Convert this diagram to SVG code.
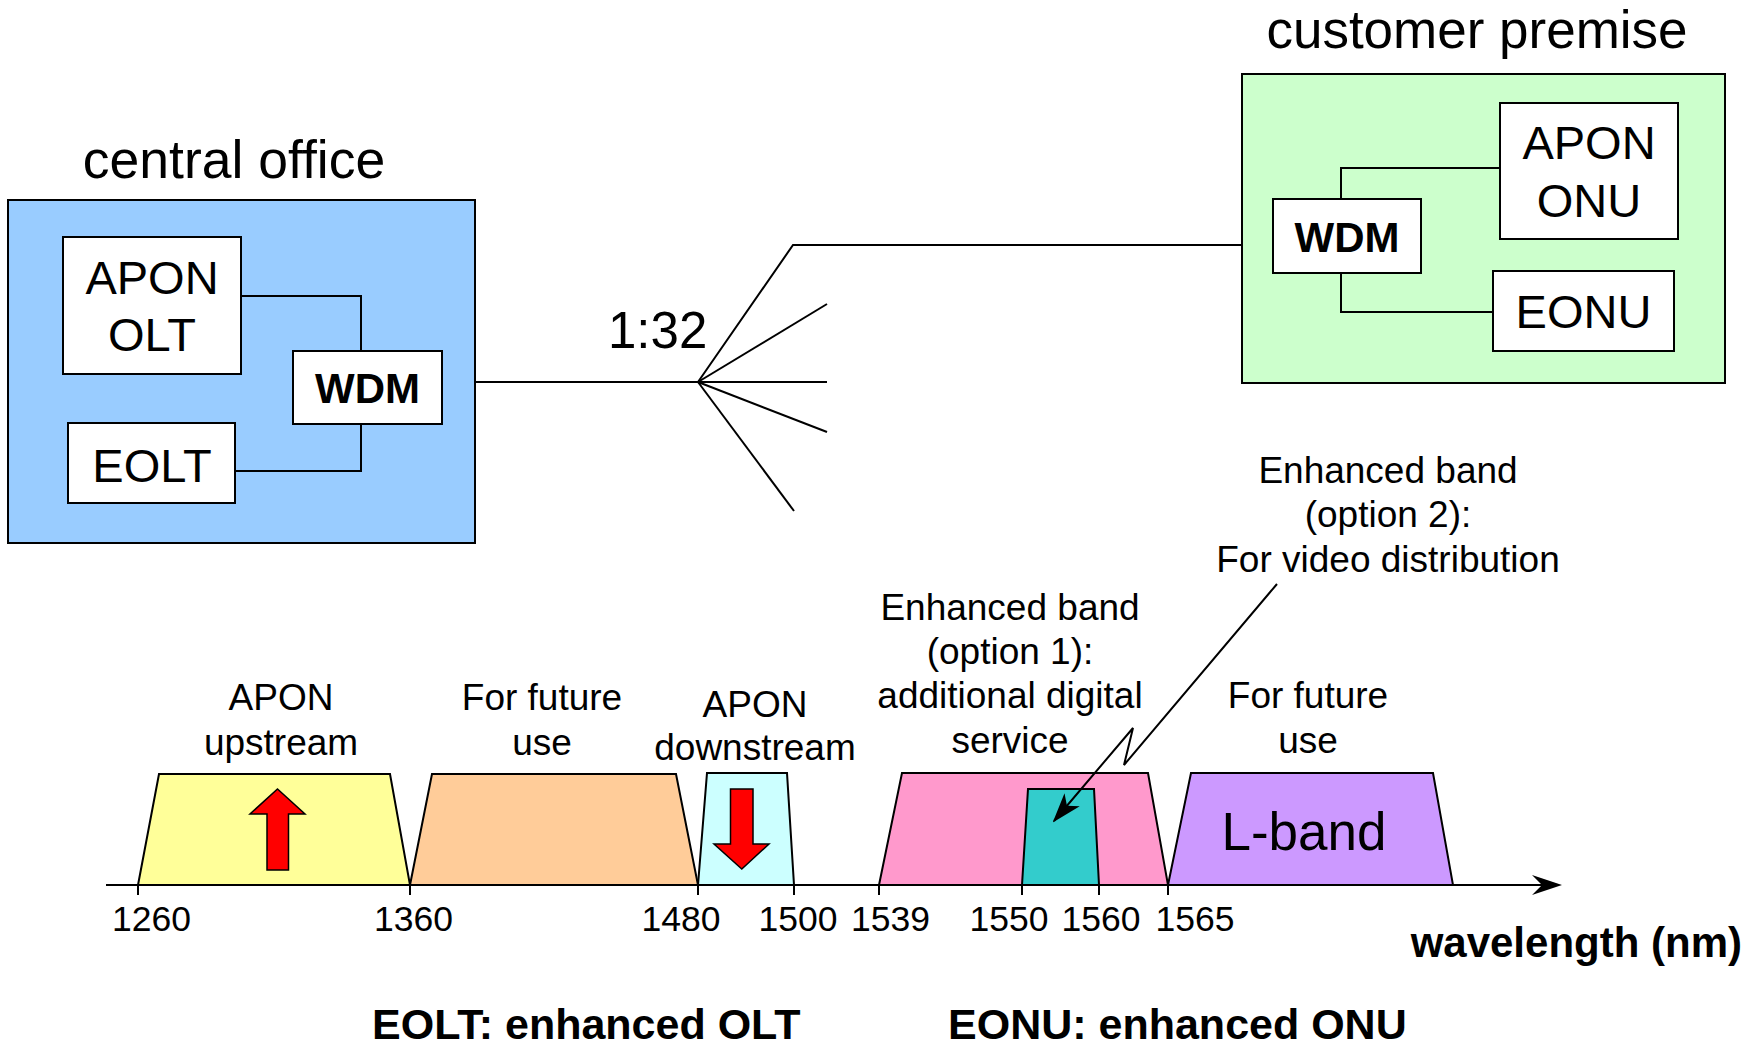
<svg xmlns="http://www.w3.org/2000/svg" width="1750" height="1046" viewBox="0 0 1750 1046">
<style>
text{font-family:"Liberation Sans",Arial,sans-serif;fill:#000}
.big{font-size:53.5px}
.box{font-size:47px;text-anchor:middle}
.wdm{font-size:42px;font-weight:bold;text-anchor:middle}
.lbl{font-size:37px;text-anchor:middle}
.num{font-size:35.5px;text-anchor:middle}
.bold{font-size:43px;font-weight:bold}
.white{fill:#fff;stroke:#000;stroke-width:2}
.ln{fill:none;stroke:#000;stroke-width:2}
.band{stroke:#000;stroke-width:2;stroke-linejoin:miter}
.red{fill:#f00;stroke:#000;stroke-width:1.5}
</style>
<defs>
<marker id="ah" markerWidth="30" markerHeight="24" viewBox="0 0 30 24" refX="28" refY="12" orient="auto" markerUnits="userSpaceOnUse">
<path d="M0 2 L30 12 L0 22 L8 12 Z" fill="#000"/>
</marker>
</defs>

<g id="central-office">
<text class="big" x="234" y="178" text-anchor="middle">central office</text>
<rect x="8" y="200" width="467" height="343" fill="#99CCFF" stroke="#000" stroke-width="2"/>
</g>
<g id="apon-olt">
<rect class="white" x="63" y="237" width="178" height="137"/>
<text class="box" x="152" y="294">APON</text>
<text class="box" x="152" y="351">OLT</text>
</g>
<g id="wdm-co">
<rect class="white" x="293" y="351" width="149" height="73"/>
<text class="wdm" x="367.5" y="403">WDM</text>
</g>
<g id="eolt">
<rect class="white" x="68" y="423" width="167" height="80"/>
<text class="box" x="152" y="482">EOLT</text>
</g>

<g id="customer-premise">
<text x="1477" y="48" text-anchor="middle" style="font-size:53px">customer premise</text>
<rect x="1242" y="74" width="483" height="309" fill="#CCFFCC" stroke="#000" stroke-width="2"/>
</g>
<g id="apon-onu">
<rect class="white" x="1500" y="103" width="178" height="136"/>
<text class="box" x="1589" y="159">APON</text>
<text class="box" x="1589" y="217">ONU</text>
</g>
<g id="wdm-cp">
<rect class="white" x="1273" y="199" width="148" height="74"/>
<text class="wdm" x="1347" y="252">WDM</text>
</g>
<g id="eonu">
<rect class="white" x="1493" y="271" width="181" height="80"/>
<text class="box" x="1583.5" y="328">EONU</text>
</g>

<g id="splitter">
<text x="608" y="348" style="font-size:51px">1:32</text>
</g>

<g id="spectrum">
<polygon class="band" fill="#FFFF99" points="138,885 159,774 390,774 410,885"/>
<polygon class="band" fill="#FFCC99" points="410,885 432,774 676,774 698,885"/>
<polygon class="band" fill="#CCFFFF" points="698,885 707,773 787,773 794,885"/>
<polygon class="band" fill="#FF99CC" points="879,885 902,773 1148,773 1168,885"/>
<polygon class="band" fill="#33CCCC" points="1022,885 1028,789 1094,789 1099,885"/>
<polygon class="band" fill="#CC99FF" points="1168,885 1191,773 1433,773 1453,885"/>
<polygon class="red" points="277.5,789 305,814 288.5,814 288.5,870 267,870 267,814 250,814"/>
<polygon class="red" points="730.5,789 753,789 753,844 769,844 741.8,869 714,844 730.5,844"/>
<path class="ln" d="M106 885 H1545"/>
<path d="M1562 885 L1532 875 L1542 885 L1532 895 Z" fill="#000"/>
<path class="ln" d="M138 885 V895 M410 885 V895 M698 885 V895 M794 885 V895 M879 885 V895 M1022 885 V895 M1099 885 V895 M1168 885 V895"/>
<text x="1304" y="850" text-anchor="middle" style="font-size:53px">L-band</text>
</g>

<g id="connectors">
<path class="ln" d="M241 296 H361 V351"/>
<path class="ln" d="M235 471 H361 V424"/>
<path class="ln" d="M1341 199 V168 H1500"/>
<path class="ln" d="M1341 273 V312 H1493"/>
<path class="ln" d="M475 382 H698"/>
<path class="ln" d="M698 382 L793 245 H1242"/>
<path class="ln" d="M698 382 L827 304"/>
<path class="ln" d="M698 382 H827"/>
<path class="ln" d="M698 382 L827 432"/>
<path class="ln" d="M698 382 L794 511"/>
<polyline class="ln" points="1277,584 1124,765 1133,728 1054,821" marker-end="url(#ah)"/>
</g>

<g id="labels">
<text class="lbl" x="281" y="710">APON</text>
<text class="lbl" x="281" y="755">upstream</text>
<text class="lbl" x="542" y="710">For future</text>
<text class="lbl" x="542" y="755">use</text>
<text class="lbl" x="755" y="717">APON</text>
<text class="lbl" x="755" y="760">downstream</text>
<text class="lbl" x="1010" y="620">Enhanced band</text>
<text class="lbl" x="1010" y="664">(option 1):</text>
<text class="lbl" x="1010" y="708">additional digital</text>
<text class="lbl" x="1010" y="753">service</text>
<text class="lbl" x="1308" y="708">For future</text>
<text class="lbl" x="1308" y="753">use</text>
<text class="lbl" x="1388" y="483">Enhanced band</text>
<text class="lbl" x="1388" y="527">(option 2):</text>
<text class="lbl" x="1388" y="572">For video distribution</text>
<text class="num" x="151.5" y="931">1260</text>
<text class="num" x="413.5" y="931">1360</text>
<text class="num" x="681" y="931">1480</text>
<text class="num" x="798" y="931">1500</text>
<text class="num" x="890.5" y="931">1539</text>
<text class="num" x="1009" y="931">1550</text>
<text class="num" x="1101" y="931">1560</text>
<text class="num" x="1195" y="931">1565</text>
<text class="bold" x="1742" y="957" text-anchor="end" style="font-size:42px">wavelength (nm)</text>
<text class="bold" x="372" y="1039">EOLT: enhanced OLT</text>
<text class="bold" x="948" y="1039">EONU: enhanced ONU</text>
</g>
</svg>
